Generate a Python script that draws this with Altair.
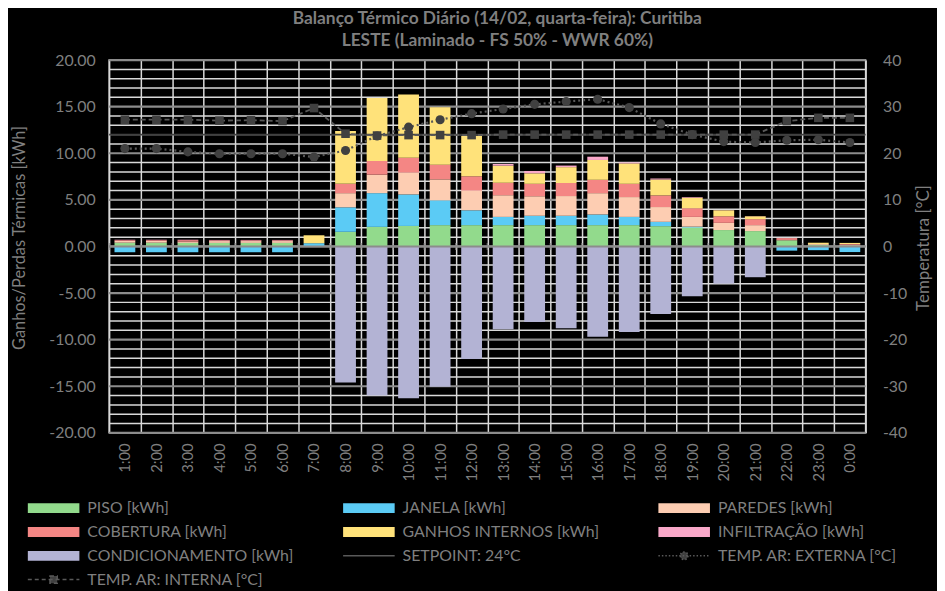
import altair as alt
import pandas as pd

hours = ["1:00", "2:00", "3:00", "4:00", "5:00", "6:00", "7:00", "8:00", "9:00", "10:00",
         "11:00", "12:00", "13:00", "14:00", "15:00", "16:00", "17:00", "18:00", "19:00",
         "20:00", "21:00", "22:00", "23:00", "0:00"]

piso = [0.40, 0.40, 0.38, 0.38, 0.38, 0.38, 0.00, 1.57, 2.10, 2.20, 2.29, 2.29, 2.29, 2.29,
        2.29, 2.29, 2.29, 2.18, 2.04, 1.76, 1.65, 0.65, 0.15, 0.10]
janela = [-0.62, -0.62, -0.62, -0.62, -0.62, -0.62, 0.35, 2.63, 3.62, 3.38, 2.66, 1.59, 0.88,
          1.00, 1.00, 1.14, 0.88, 0.46, 0.08, 0.00, 0.00, -0.45, -0.40, -0.60]
paredes = [0.20, 0.20, 0.15, 0.20, 0.20, 0.20, 0.00, 1.52, 1.98, 2.35, 2.25, 2.12, 2.33, 2.10,
           2.12, 2.29, 2.13, 1.59, 1.05, 0.77, 0.64, 0.05, 0.10, 0.08]
cobertura = [0.08, 0.08, 0.15, 0.08, 0.08, 0.08, 0.00, 1.00, 1.47, 1.59, 1.58, 1.53, 1.33, 1.33,
             1.40, 1.43, 1.42, 1.25, 0.93, 0.71, 0.64, 0.20, 0.00, 0.08]
ganhos = [0.00, 0.00, 0.00, 0.00, 0.00, 0.00, 0.85, 5.68, 6.77, 6.78, 6.17, 4.33, 1.84, 1.13,
          1.70, 2.13, 2.19, 1.70, 1.13, 0.64, 0.31, 0.00, 0.15, 0.12]
infiltracao = [0.04, 0.04, 0.04, 0.04, 0.04, 0.04, 0.00, 0.00, 0.00, 0.00, 0.00, 0.00, 0.18, 0.25,
               0.17, 0.35, 0.10, 0.11, 0.07, 0.02, 0.02, 0.00, 0.00, 0.00]
condicionamento = [0, 0, 0, 0, 0, 0, 0, -14.60, -16.00, -16.30, -15.05, -12.07, -8.88, -8.10,
                   -8.78, -9.70, -9.17, -7.25, -5.34, -3.99, -3.30, 0, 0, 0]

temp_interna = [27.2, 27.2, 27.2, 27.0, 27.1, 26.9, 29.7, 24.2, 23.8, 23.9, 23.9, 23.9, 24.0, 24.0,
                24.0, 24.0, 24.0, 24.0, 24.0, 24.0, 24.0, 26.9, 27.6, 27.6]
temp_externa = [21.0, 21.0, 20.3, 19.9, 19.9, 19.9, 19.2, 20.6, 23.7, 25.6, 27.2, 28.5, 29.5, 30.5,
                31.1, 31.6, 29.8, 26.3, 24.0, 22.5, 22.3, 22.8, 22.9, 22.3]
setpoint = [24]

# horizontal gridlines of the left (kWh) axis
grid_major = [-20, -15, -10, -5, 0, 5, 10, 15, 20]
grid_minor = [v for v in range(-19, 20) if v % 5 != 0]

bar_names = ["PISO [kWh]", "JANELA [kWh]", "PAREDES [kWh]", "COBERTURA [kWh]",
             " GANHOS INTERNOS [kWh]", "INFILTRAÇÃO [kWh]", "CONDICIONAMENTO [kWh]"]
line_names = ["SETPOINT: 24°C", "TEMP. AR: EXTERNA [°C]", "TEMP. AR: INTERNA [°C]"]
bar_colors = ["#92DA8C", "#5BCBF5", "#FDCDB2", "#F48684", "#FFE27A", "#F9A8C9", "#B3B3D4"]
line_colors = ["#404040", "#404040", "#404040"]
color_of = dict(zip(bar_names + line_names, bar_colors + line_colors))

# legend entry order (Vega fills columns first; this order shows row-wise as in Excel)
legend_order = ["PISO [kWh]", "COBERTURA [kWh]", "CONDICIONAMENTO [kWh]", "TEMP. AR: EXTERNA [°C]",
                "JANELA [kWh]", " GANHOS INTERNOS [kWh]", "SETPOINT: 24°C", "TEMP. AR: INTERNA [°C]",
                "PAREDES [kWh]", "INFILTRAÇÃO [kWh]"]

bar_values = [piso, janela, paredes, cobertura, ganhos, infiltracao, condicionamento]

rows = []
for i, (name, vals) in enumerate(zip(bar_names, bar_values)):
    for h, v in zip(hours, vals):
        rows.append({"hora": h, "serie": name, "valor": v, "ordem": i})
df_bars = pd.DataFrame(rows)

df_temp = pd.DataFrame({"hora": hours, "interna": temp_interna, "externa": temp_externa})
df_set = pd.DataFrame({"sp": setpoint})
df_hours = pd.DataFrame({"hora": hours})
df_zero = pd.DataFrame({"z": [0]})
df_gmaj = pd.DataFrame({"g": grid_major})
df_gmin = pd.DataFrame({"g": grid_minor})

TXT = "#7f7f7f"
FONT = "Lato"

x_enc = alt.X("hora:N", sort=hours, title=None,
              scale=alt.Scale(paddingInner=0, paddingOuter=0),
              axis=alt.Axis(labelAngle=-90, labelFontSize=15, labelColor=TXT, labelFont=FONT,
                            labelPadding=10, ticks=False, domain=False, grid=True,
                            tickBand="extent", gridColor="#d9d9d9", gridWidth=1.5))

y_left_scale = alt.Scale(domain=[-20, 20], nice=False)
y_left_axis = alt.Axis(
    values=grid_major, labelOverlap=False,
    labelExpr="(datum.value < 0 ? '-' : '') + format(abs(datum.value), '.2f')",
    labelFontSize=16, labelColor=TXT, labelFont=FONT, labelPadding=14,
    ticks=False, domain=False, grid=False,
    title="Ganhos/Perdas Térmicas [kWh]", titleFont=FONT, titleFontSize=16.5,
    titleFontWeight="normal", titleColor=TXT, titleAngle=270, titleX=-90, titleY=179,
    titleAlign="center", titleBaseline="middle")

sym_path = "M-1,-0.19H1V0.19H-1Z"
is_line = "indexof(['SETPOINT: 24°C','TEMP. AR: EXTERNA [°C]','TEMP. AR: INTERNA [°C]'], datum.value) >= 0"
shape_expr = ("datum.value === 'SETPOINT: 24°C' ? 'M-1,0H1' : "
              "datum.value === 'TEMP. AR: EXTERNA [°C]' ? "
              "'M-1,0H1M-0.15,0A0.15,0.15 0 1,0 0.15,0A0.15,0.15 0 1,0 -0.15,0Z' : "
              "datum.value === 'TEMP. AR: INTERNA [°C]' ? 'M-1,0H1M-0.14,-0.14H0.14V0.14H-0.14Z' : "
              f"'{sym_path}'")
dash_expr = ("datum.value === 'TEMP. AR: INTERNA [°C]' ? [4, 3] : "
             "datum.value === 'TEMP. AR: EXTERNA [°C]' ? [1.5, 2] : [1, 0]")

legend = alt.Legend(
    title=None, orient="none", legendX=-83, legendY=443, columns=3, gridAlign="all",
    columnPadding=49, rowPadding=6, symbolSize=2704, clipHeight=18,
    symbolType=alt.ExprRef(expr=shape_expr),
    symbolStrokeColor=alt.ExprRef(expr=f"{is_line} ? '#595959' : 'transparent'"),
    symbolStrokeWidth=1.5,
    symbolDash=alt.ExprRef(expr=dash_expr),
    labelFont=FONT, labelFontSize=16, labelColor=TXT, labelLimit=400, labelOffset=7,
    padding=0)

grid_minor_rules = alt.Chart(df_gmin).mark_rule(color="#d9d9d9", strokeWidth=1.5).encode(
    y=alt.Y("g:Q", scale=y_left_scale, axis=y_left_axis))
grid_major_rules = alt.Chart(df_gmaj).mark_rule(color="#8c8c8c", strokeWidth=2.2).encode(
    y=alt.Y("g:Q"))

bars = alt.Chart(df_bars).mark_bar(width=alt.RelativeBandSize(0.66)).encode(
    x=x_enc,
    y=alt.Y("valor:Q", stack="zero"),
    color=alt.Color("serie:N", scale=alt.Scale(domain=legend_order,
                                               range=[color_of[n] for n in legend_order]),
                    legend=legend),
    order=alt.Order("ordem:Q"),
)

zero_line = alt.Chart(df_zero).mark_rule(color="#8c8c8c", strokeWidth=2).encode(y=alt.Y("z:Q"))
zero_ticks = alt.Chart(df_hours).mark_tick(orient="vertical", size=7, thickness=1.5, color="#8c8c8c").encode(
    x=alt.X("hora:N", sort=hours, bandPosition=0), y=alt.Y(datum=0))

left = alt.layer(grid_minor_rules, grid_major_rules, bars, zero_line, zero_ticks)

y_right_scale = alt.Scale(domain=[-40, 40], nice=False)
y_right_axis = alt.Axis(
    orient="right", values=list(range(-40, 41, 5)), labelOverlap=False,
    labelExpr="(datum.value < 0 ? '-' : '') + abs(datum.value)",
    labelFontSize=16, labelColor=TXT, labelFont=FONT, labelPadding=17,
    ticks=False, domain=False, grid=False,
    title="Temperatura [°C]", titleFont=FONT, titleFontSize=17, titleFontWeight="normal",
    titleColor=TXT, titleAngle=270, titleX=58, titleY=189, titleAlign="center",
    titleBaseline="middle")

sp_rule = alt.Chart(df_set).mark_rule(color="#404040", strokeWidth=2).encode(
    y=alt.Y("sp:Q", scale=y_right_scale, axis=y_right_axis))
int_line = alt.Chart(df_temp).mark_line(color="#595959", strokeWidth=1.8, strokeDash=[5, 3]).encode(
    x=alt.X("hora:N", sort=hours), y=alt.Y("interna:Q"))
int_pts = alt.Chart(df_temp).mark_point(shape="square", filled=True, size=75, color="#404040", opacity=1).encode(
    x=alt.X("hora:N", sort=hours), y=alt.Y("interna:Q"))
ext_line = alt.Chart(df_temp).mark_line(color="#595959", strokeWidth=2.2, strokeDash=[2, 3]).encode(
    x=alt.X("hora:N", sort=hours), y=alt.Y("externa:Q"))
ext_pts = alt.Chart(df_temp).mark_point(shape="circle", filled=True, size=85, color="#404040", opacity=1).encode(
    x=alt.X("hora:N", sort=hours), y=alt.Y("externa:Q"))

right = alt.layer(sp_rule, int_line, ext_line, int_pts, ext_pts)

chart = alt.layer(left, right).resolve_scale(y="independent").properties(
    width=763, height=376,
    autosize=alt.AutoSizeParams(type="none"),
    padding={"left": 102, "top": 50, "right": 72, "bottom": 157},
    title=alt.TitleParams(
        text=["Balanço Térmico Diário (14/02, quarta-feira): Curitiba",
              "LESTE (Laminado - FS 50% - WWR 60%)"],
        font=FONT, fontSize=17.5, fontWeight="bold", color=TXT, anchor="middle",
        dx=10, offset=3, lineHeight=22),
).configure(background="#000000").configure_view(stroke="#d9d9d9", strokeWidth=1.5)

chart.save("out.html", embed_options={"renderer": "svg", "actions": False})
